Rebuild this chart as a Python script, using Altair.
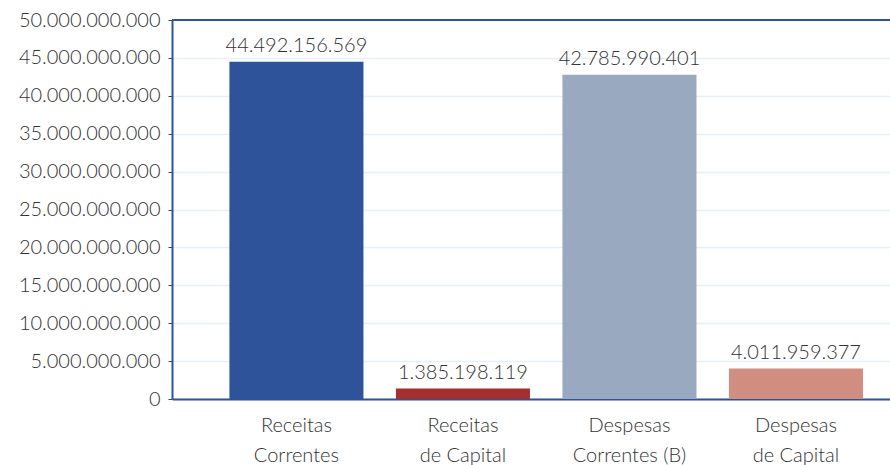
import altair as alt
import pandas as pd

categories = ["Receitas\nCorrentes", "Receitas\nde Capital", "Despesas\nCorrentes (B)", "Despesas\nde Capital"]
values = [44492156569, 1385198119, 42785990401, 4011959377]
colors = ["#2e539b", "#a52f2f", "#99a9c0", "#d08e80"]
y_ticks = [0, 5e9, 10e9, 15e9, 20e9, 25e9, 30e9, 35e9, 40e9, 45e9, 50e9]

df = pd.DataFrame({"cat": categories, "value": values, "color": colors})

FONT = "Lato"
FS = 20
xscale = alt.Scale(paddingInner=0.195, paddingOuter=0.2535, align=0.68)
xaxis = alt.Axis(labelAngle=0, labelExpr="split(datum.value, '\\n')",
                 labelFontSize=FS, labelColor="#333333", labelFont=FONT,
                 labelFontWeight=300, labelLineHeight=30, labelPadding=16,
                 ticks=False, domainColor="#2e539b", domainWidth=2,
                 labelBaseline="top")
yscale = alt.Scale(domain=[0, 50e9], nice=False)
yaxis = alt.Axis(values=y_ticks, labelExpr="replace(format(datum.value, ',d'), /,/g, '.')",
                 labelFontSize=FS, labelColor="#333333", labelFont=FONT,
                 labelFontWeight=300, labelPadding=8, labelOverlap=False,
                 tickSize=4, tickColor="#444444",
                 domainColor="#2e539b", domainWidth=2,
                 grid=True, gridColor="#e6f0fa", gridWidth=1.5)

x = alt.X("cat:N", sort=categories, title=None, scale=xscale, axis=xaxis)
y = alt.Y("value:Q", title=None, scale=yscale, axis=yaxis)

bars = alt.Chart(df).mark_bar().encode(
    x=x, y=y,
    color=alt.Color("color:N", scale=None),
)

text = alt.Chart(df).transform_calculate(
    lbl="replace(format(datum.value, ',d'), /,/g, '.')"
).mark_text(baseline="bottom", dy=-6, fontSize=FS, font=FONT, fontWeight=300, color="#333333").encode(
    x=x, y=y, text="lbl:N"
)

top = alt.Chart(df).mark_rule(color="#2e539b", strokeWidth=2).encode(
    y=alt.datum(50e9, scale=yscale, axis=yaxis, title=None)
)

chart = alt.layer(bars, text, top).properties(
    width=718, height=379,
    autosize=alt.AutoSizeParams(type="none"),
    padding={"left": 172, "top": 20, "right": 0, "bottom": 66},
    background="white",
).configure_view(stroke=None)

chart.save("out.html", embed_options={"renderer": "svg", "actions": False})
